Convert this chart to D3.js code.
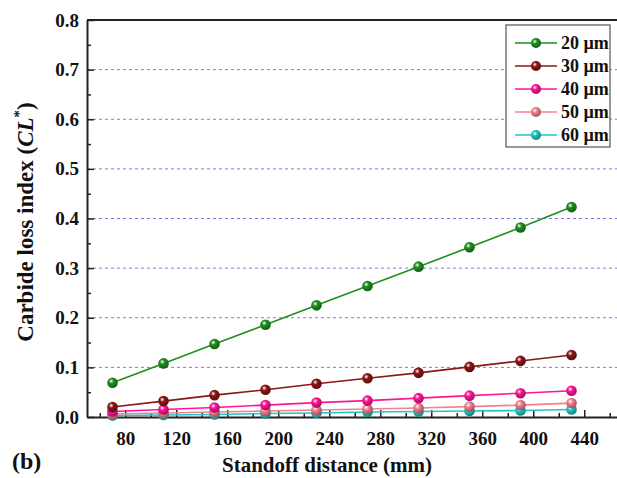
<!DOCTYPE html>
<html>
<head>
<meta charset="utf-8">
<script src="https://cdn.jsdelivr.net/npm/d3@7"></script>
<style>
  body { margin: 0; background: #fff; }
  svg { display: block; font-family: "Liberation Serif", "Times New Roman", serif; font-weight: bold; }
</style>
</head>
<body>
<div id="chart"></div>
<script>
// Data
var distances = [70, 110, 150, 190, 230, 270, 310, 350, 390, 430];
var cl20 = [0.069, 0.108, 0.147, 0.186, 0.225, 0.264, 0.303, 0.342, 0.382, 0.423];
var cl30 = [0.020, 0.032, 0.044, 0.055, 0.067, 0.078, 0.089, 0.101, 0.113, 0.125];
var cl40 = [0.011, 0.015, 0.019, 0.024, 0.029, 0.033, 0.038, 0.043, 0.048, 0.053];
var cl50 = [0.006, 0.008, 0.010, 0.012, 0.014, 0.016, 0.018, 0.021, 0.024, 0.028];
var cl60 = [0.003, 0.004, 0.005, 0.007, 0.008, 0.010, 0.011, 0.012, 0.013, 0.015];
var seriesNames = ["20 µm", "30 µm", "40 µm", "50 µm", "60 µm"];
var seriesColors = ["#1f8f1f", "#8b1515", "#ff1493", "#f3808f", "#1ec6c6"];
var xTicks = [80, 120, 160, 200, 240, 280, 320, 360, 400, 440];
var xMinor = [60, 100, 140, 180, 220, 260, 300, 340, 380, 420, 460];
var yTicks = [0, 0.1, 0.2, 0.3, 0.4, 0.5, 0.6, 0.7, 0.8];
var yMinor = [0.05, 0.15, 0.25, 0.35, 0.45, 0.55, 0.65, 0.75];
var gridValues = [0.1, 0.2, 0.3, 0.4, 0.5, 0.6, 0.7];

var series = [cl20, cl30, cl40, cl50, cl60].map(function(vals, i) {
  return {
    name: seriesNames[i],
    color: seriesColors[i],
    points: vals.map(function(v, j) { return { x: distances[j], y: v }; })
  };
});

var width = 617, height = 478;
var plotLeft = 87, plotTop = 20, plotBottom = 417;

var svg = d3.select("#chart").append("svg")
  .attr("width", width)
  .attr("height", height);

// scales: the plot runs past the right edge (cropped figure)
var x = d3.scaleLinear().domain([50, 480]).range([plotLeft, 635.25]);
var y = d3.scaleLinear().domain([0, 0.8]).range([plotBottom, plotTop]);

// shaded ball markers
var defs = svg.append("defs");
series.forEach(function(s, i) {
  var g = defs.append("radialGradient")
    .attr("id", "ball" + i)
    .attr("cx", "38%").attr("cy", "35%").attr("r", "65%");
  g.append("stop").attr("offset", "0%").attr("stop-color", "#ffffff");
  g.append("stop").attr("offset", "35%").attr("stop-color", s.color);
  g.append("stop").attr("offset", "100%").attr("stop-color", d3.color(s.color).darker(1.2));
});

// dashed grid
svg.selectAll(".grid")
  .data(gridValues)
  .enter().append("line")
  .attr("class", "grid")
  .attr("x1", plotLeft).attr("x2", width)
  .attr("y1", function(d) { return y(d); })
  .attr("y2", function(d) { return y(d); })
  .attr("stroke", "#7b7be8")
  .attr("stroke-width", 1)
  .attr("stroke-dasharray", "3,3");

// top frame line
svg.append("line")
  .attr("x1", plotLeft).attr("x2", width)
  .attr("y1", plotTop).attr("y2", plotTop)
  .attr("stroke", "#222").attr("stroke-width", 2);

// x axis, ticks pointing inward
var xAxis = svg.append("g")
  .attr("transform", "translate(0," + plotBottom + ")")
  .call(d3.axisBottom(x).tickValues(xTicks).tickSize(-7).tickPadding(15).tickSizeOuter(0));
svg.append("g")
  .attr("transform", "translate(0," + plotBottom + ")")
  .call(d3.axisBottom(x).tickValues(xMinor).tickSize(-4).tickFormat("").tickSizeOuter(0))
  .select(".domain").remove();

// y axis
var yAxis = svg.append("g")
  .attr("transform", "translate(" + plotLeft + ",0)")
  .call(d3.axisLeft(y).tickValues(yTicks).tickSize(-7).tickPadding(8).tickSizeOuter(0)
    .tickFormat(d3.format(".1f")));
svg.append("g")
  .attr("transform", "translate(" + plotLeft + ",0)")
  .call(d3.axisLeft(y).tickValues(yMinor).tickSize(-4).tickFormat("").tickSizeOuter(0))
  .select(".domain").remove();

svg.selectAll(".domain").attr("stroke", "#222").attr("stroke-width", 2);
svg.selectAll(".tick line").attr("stroke", "#222").attr("stroke-width", 1.5);
svg.selectAll(".tick text")
  .attr("fill", "#111")
  .style("font-family", "'Liberation Serif', serif")
  .style("font-weight", "bold");
xAxis.selectAll(".tick text").style("font-size", "19px");
yAxis.selectAll(".tick text").style("font-size", "19px");

// lines and markers
var line = d3.line()
  .x(function(d) { return x(d.x); })
  .y(function(d) { return y(d.y); });

var groups = svg.selectAll(".series")
  .data(series.slice().reverse())
  .enter().append("g")
  .attr("class", "series");

groups.append("path")
  .attr("d", function(d) { return line(d.points); })
  .attr("fill", "none")
  .attr("stroke", function(d) { return d.color; })
  .attr("stroke-width", 1.6);

groups.each(function(s) {
  var idx = seriesNames.indexOf(s.name);
  d3.select(this).selectAll("circle")
    .data(s.points)
    .enter().append("circle")
    .attr("cx", function(d) { return x(d.x); })
    .attr("cy", function(d) { return y(d.y); })
    .attr("r", 5.3)
    .attr("fill", "url(#ball" + idx + ")");
});

// legend
var legend = svg.append("g");
legend.append("rect")
  .attr("x", 506).attr("y", 25)
  .attr("width", 104).attr("height", 122)
  .attr("fill", "#fff")
  .attr("stroke", "#555")
  .attr("stroke-width", 1.2);

var entries = legend.selectAll(".entry")
  .data(series)
  .enter().append("g")
  .attr("class", "entry")
  .attr("transform", function(d, i) { return "translate(0," + (43 + i * 23) + ")"; });

entries.append("line")
  .attr("x1", 515).attr("x2", 557)
  .attr("stroke", function(d) { return d.color; })
  .attr("stroke-width", 1.6);
entries.append("circle")
  .attr("cx", 536).attr("r", 5)
  .attr("fill", function(d, i) { return "url(#ball" + i + ")"; });
entries.append("text")
  .attr("x", 561).attr("y", 6)
  .style("font-size", "18px")
  .attr("fill", "#111")
  .text(function(d) { return d.name; });

// axis titles
svg.append("text")
  .attr("x", 327).attr("y", 472)
  .attr("text-anchor", "middle")
  .style("font-size", "21px")
  .attr("fill", "#111")
  .text("Standoff distance (mm)");

svg.append("text")
  .attr("x", 12).attr("y", 469)
  .style("font-size", "24px")
  .attr("fill", "#111")
  .text("(b)");

var yTitle = svg.append("text")
  .attr("transform", "translate(33,222) rotate(-90)")
  .attr("text-anchor", "middle")
  .style("font-size", "23px")
  .attr("fill", "#111");
yTitle.append("tspan").text("Carbide loss index (");
yTitle.append("tspan").style("font-style", "italic").text("CL");
yTitle.append("tspan").attr("dy", -9).style("font-size", "15px").text("*");
yTitle.append("tspan").attr("dy", 9).text(")");
</script>
</body>
</html>
